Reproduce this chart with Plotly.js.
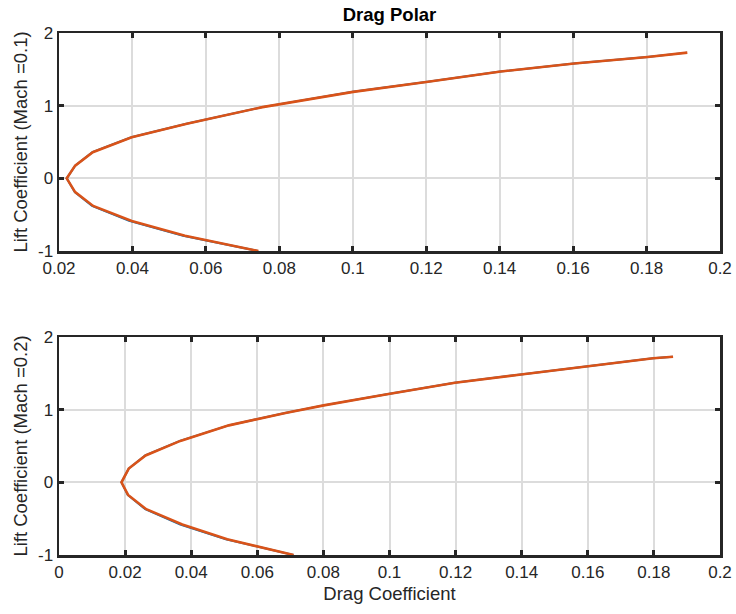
<!DOCTYPE html>
<html>
<head>
<meta charset="utf-8">
<script src="https://cdn.plot.ly/plotly-3.0.1.min.js"></script>
<style>html,body{margin:0;padding:0;background:#fff;}#chart{width:736px;height:614px;}</style>
</head>
<body>
<div id="chart"></div>
<script>
// Mach 0.1 (top panel)
const cl_m01_a = [-1, -0.79, -0.586, -0.38, -0.19, 0, 0.175, 0.36, 0.565, 0.75, 0.98, 1.19, 1.33, 1.47, 1.58, 1.67, 1.73];
const cd_m01_a = [0.0742, 0.0538, 0.0391, 0.0290, 0.0243, 0.0221, 0.0244, 0.0291, 0.0397, 0.0547, 0.0753, 0.1000, 0.1204, 0.1402, 0.1602, 0.1802, 0.1910];
const cl_m01_b = [-1, -0.79, -0.586, -0.38, -0.19, 0, 0.175, 0.36, 0.565, 0.75, 0.98, 1.19, 1.33, 1.47, 1.58, 1.67, 1.73];
const cd_m01_b = [0.0743, 0.0543, 0.0398, 0.0293, 0.0244, 0.0221, 0.0244, 0.0292, 0.0398, 0.0548, 0.0754, 0.1001, 0.1205, 0.1403, 0.1603, 0.1803, 0.1911];
// Mach 0.2 (bottom panel)
const cl_m02_a = [-1, -0.783, -0.58, -0.37, -0.173, 0, 0.19, 0.37, 0.57, 0.784, 0.954, 1.059, 1.216, 1.37, 1.485, 1.60, 1.707, 1.729];
const cd_m02_a = [0.0709, 0.0505, 0.0367, 0.0261, 0.0208, 0.0189, 0.0211, 0.0261, 0.0366, 0.0513, 0.0684, 0.0800, 0.0996, 0.1197, 0.1397, 0.1597, 0.1797, 0.1857];
const cl_m02_b = [-1, -0.783, -0.58, -0.37, -0.173, 0, 0.19, 0.37, 0.57, 0.784, 0.954, 1.059, 1.216, 1.37, 1.485, 1.60, 1.707, 1.729];
const cd_m02_b = [0.0710, 0.0509, 0.0373, 0.0264, 0.0209, 0.0189, 0.0211, 0.0262, 0.0367, 0.0514, 0.0685, 0.0801, 0.0997, 0.1198, 0.1398, 0.1598, 0.1798, 0.1858];

const xTicksTop = [0.02, 0.04, 0.06, 0.08, 0.1, 0.12, 0.14, 0.16, 0.18, 0.2];
const xTickTextTop = ["0.02", "0.04", "0.06", "0.08", "0.1", "0.12", "0.14", "0.16", "0.18", "0.2"];
const xTicksBot = [0, 0.02, 0.04, 0.06, 0.08, 0.1, 0.12, 0.14, 0.16, 0.18, 0.2];
const xTickTextBot = ["0", "0.02", "0.04", "0.06", "0.08", "0.1", "0.12", "0.14", "0.16", "0.18", "0.2"];
const yTicks = [-1, 0, 1, 2];
const yTickText = ["-1", "0", "1", "2"];

const titleText = "Drag Polar";
const xTitle = "Drag Coefficient";
const yTitleTop = "Lift Coefficient (Mach =0.1)";
const yTitleBot = "Lift Coefficient (Mach =0.2)";

const blue = "#0072BD", orange = "#D95319";
const ink = "#262626";
const fontFam = "Liberation Sans, Arial, sans-serif";
const tickSize = 17, labelSize = 18.5;

const traces = [
  {x: cd_m01_a, y: cl_m01_a, xaxis: "x", yaxis: "y", mode: "lines", line: {color: blue, width: 2}, showlegend: false, hoverinfo: "skip"},
  {x: cd_m01_b, y: cl_m01_b, xaxis: "x", yaxis: "y", mode: "lines", line: {color: orange, width: 2.6}, showlegend: false, hoverinfo: "skip"},
  {x: cd_m02_a, y: cl_m02_a, xaxis: "x2", yaxis: "y2", mode: "lines", line: {color: blue, width: 2}, showlegend: false, hoverinfo: "skip"},
  {x: cd_m02_b, y: cl_m02_b, xaxis: "x2", yaxis: "y2", mode: "lines", line: {color: orange, width: 2.6}, showlegend: false, hoverinfo: "skip"}
];

function xa(range, vals, text, anchor, title) {
  const a = {
    domain: [0, 1], anchor: anchor, range: range, autorange: false,
    tickmode: "array", tickvals: vals, ticktext: text,
    ticks: "inside", ticklen: 5, tickwidth: 3, tickcolor: ink,
    showline: true, linecolor: ink, linewidth: 2.5, mirror: "ticks",
    showgrid: true, gridcolor: "#dcdcdc", gridwidth: 2, zeroline: false,
    tickfont: {family: fontFam, size: tickSize, color: ink},
    automargin: false
  };
  if (title) a.title = {text: title, font: {family: fontFam, size: labelSize, color: ink}, standoff: 6};
  return a;
}
function ya(dom, anchor, title) {
  return {
    domain: dom, anchor: anchor, range: [-1, 2], autorange: false,
    tickmode: "array", tickvals: yTicks, ticktext: yTickText,
    ticks: "inside", ticklen: 5, tickwidth: 3, tickcolor: ink,
    showline: true, linecolor: ink, linewidth: 2.5, mirror: "ticks",
    showgrid: true, gridcolor: "#dcdcdc", gridwidth: 2, zeroline: false,
    tickfont: {family: fontFam, size: tickSize, color: ink},
    title: {text: title, font: {family: fontFam, size: labelSize, color: ink}, standoff: 6},
    automargin: false
  };
}

const layout = {
  width: 736, height: 614,
  margin: {l: 59, r: 16, t: 33, b: 59, pad: 0},
  paper_bgcolor: "#fff", plot_bgcolor: "#fff",
  title: {text: "<b>" + titleText + "</b>", font: {family: fontFam, size: 18.5, color: "#000"},
          x: 0.5, xref: "paper", y: 1 - 15/614, yref: "container", yanchor: "middle"},
  xaxis: xa([0.02, 0.2], xTicksTop, xTickTextTop, "y", null),
  yaxis: ya([304/522, 1], "x", yTitleTop),
  xaxis2: xa([0, 0.2], xTicksBot, xTickTextBot, "y2", xTitle),
  yaxis2: ya([0, 218/522], "x2", yTitleBot),
  showlegend: false
};

Plotly.newPlot("chart", traces, layout, {staticPlot: true, displayModeBar: false});
</script>
</body>
</html>
